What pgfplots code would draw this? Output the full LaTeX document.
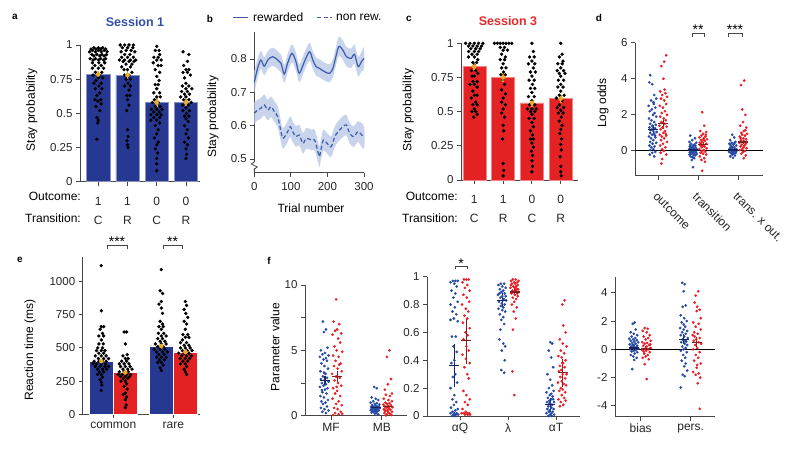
\documentclass[border=0pt]{standalone}
\usepackage{fontspec}
\setmainfont{Liberation Sans}
\usepackage{pgfplots}
\usepackage{pgfplotstable}
\pgfplotsset{compat=1.18}

\definecolor{barblue}{RGB}{38,56,146}
\definecolor{barred}{RGB}{228,34,36}
\definecolor{dotblue}{RGB}{38,72,165}
\definecolor{dotred}{RGB}{232,30,36}
\definecolor{dblue}{RGB}{22,36,100}
\definecolor{dred}{RGB}{135,30,30}
\definecolor{errY}{RGB}{236,172,40}
\definecolor{axgray}{RGB}{70,70,70}
\definecolor{lineblue}{RGB}{62,92,172}
\definecolor{bandblue}{RGB}{200,211,236}
\definecolor{titleblue}{RGB}{50,78,170}
\definecolor{titlered}{RGB}{232,40,40}

\newcommand{\lab}{\fontsize{12}{14}\selectfont}
\newcommand{\tkl}{\fontsize{11.5}{13}\selectfont}
\newcommand{\pl}{\fontsize{10}{12}\selectfont\bfseries}
\newcommand{\sigf}{\fontsize{14}{14}\selectfont}

\pgfplotsset{
  base/.style={scale only axis, axis lines=left, axis line style={-, draw=axgray, line width=0.9pt},
    major tick style={draw=axgray, line width=0.9pt}, major tick length=4pt, tick align=outside,
    tick label style={font=\tkl, text=black!85}, clip=false, anchor=south west},
  dots/.style={only marks, mark=*, mark size=1.15pt, mark options={draw=none}},
  bdots/.style={only marks, mark=*, mark size=1.5pt, color=black, mark options={draw=none, fill=black}},
  cross/.style={only marks, mark=-, mark size=5pt, mark options={line width=1.2pt},
    /pgfplots/error bars/y dir=both, /pgfplots/error bars/y explicit,
    /pgfplots/error bars/error mark=none, /pgfplots/error bars/error bar style={line width=1.2pt}},
  ebar/.style={only marks, mark=none, color=errY,
    /pgfplots/error bars/y dir=both, /pgfplots/error bars/y explicit,
    /pgfplots/error bars/error mark=none, /pgfplots/error bars/error bar style={line width=1.8pt}},
}

\pgfplotstableread{
t y
0 0.730
9 0.772
18 0.797
27 0.778
37 0.797
50 0.807
64 0.797
73 0.787
82 0.755
91 0.787
103 0.817
114 0.792
123 0.757
137 0.792
151 0.822
160 0.797
169 0.777
178 0.772
192 0.762
206 0.757
215 0.772
222 0.802
231 0.837
242 0.827
252 0.807
265 0.802
274 0.814
284 0.777
293 0.792
300 0.802
}\rewtab

\pgfplotstableread{
t y
0 0.762
9 0.801
18 0.824
27 0.805
37 0.824
50 0.834
64 0.824
73 0.814
82 0.782
91 0.814
103 0.844
114 0.819
123 0.784
137 0.819
151 0.849
160 0.824
169 0.804
178 0.799
192 0.789
206 0.784
215 0.799
222 0.829
231 0.866
242 0.856
252 0.836
265 0.831
274 0.843
284 0.806
293 0.821
300 0.834
300 0.770
293 0.763
284 0.748
274 0.785
265 0.773
252 0.778
242 0.798
231 0.808
222 0.775
215 0.745
206 0.730
192 0.735
178 0.745
169 0.750
160 0.770
151 0.795
137 0.765
123 0.730
114 0.765
103 0.790
91 0.760
82 0.728
73 0.760
64 0.770
50 0.780
37 0.770
27 0.751
18 0.770
9 0.743
0 0.698
}\rewband

\pgfplotstableread{
t y
0 0.637
9 0.647
18 0.652
27 0.662
37 0.647
46 0.657
55 0.642
64 0.627
73 0.582
78 0.562
89 0.577
98 0.597
105 0.582
114 0.567
123 0.572
133 0.547
142 0.562
156 0.557
165 0.557
174 0.522
178 0.507
183 0.532
189 0.557
199 0.547
210 0.537
220 0.567
229 0.582
242 0.597
252 0.602
261 0.577
272 0.567
284 0.582
300 0.564
}\nrtab

\pgfplotstableread{
t y
0 0.669
9 0.678
18 0.683
27 0.693
37 0.678
46 0.688
55 0.673
64 0.658
73 0.613
78 0.593
89 0.608
98 0.628
105 0.613
114 0.598
123 0.603
133 0.578
142 0.593
156 0.588
165 0.588
174 0.553
178 0.538
183 0.563
189 0.588
199 0.578
210 0.568
220 0.598
229 0.613
242 0.628
252 0.633
261 0.608
272 0.598
284 0.613
300 0.597
300 0.531
284 0.551
272 0.536
261 0.546
252 0.571
242 0.566
229 0.551
220 0.536
210 0.506
199 0.516
189 0.526
183 0.501
178 0.476
174 0.491
165 0.526
156 0.526
142 0.531
133 0.516
123 0.541
114 0.536
105 0.551
98 0.566
89 0.546
78 0.531
73 0.551
64 0.596
55 0.611
46 0.626
37 0.616
27 0.631
18 0.621
9 0.616
0 0.605
}\nrband

\begin{document}
\begin{tikzpicture}
\path[use as bounding box] (0pt,0pt) rectangle (800pt,453pt);

% ---------------- panel a
\begin{axis}[base, at={(80pt,271.3pt)}, width=120pt, height=136.7pt,
  xmin=0.373, xmax=4.48, ymin=0, ymax=1,
  xtick={1,2,3,4}, xticklabels={{1\\[5pt]C},{1\\[5pt]R},{0\\[5pt]C},{0\\[5pt]R}}, xticklabel style={align=center, yshift=-8pt, font=\lab},
  ytick={0,0.25,0.5,0.75,1}, yticklabels={0,0.25,0.5,0.75,1}]
\addplot[ybar, bar width=0.8, bar shift=0pt, fill=barblue, draw=barblue!55!white, line width=0.5pt] coordinates {(1,0.785) (2,0.78) (3,0.58) (4,0.58)};
\addplot[bdots] coordinates {
(0.85,0.98) (1,0.98) (1.15,0.98) (0.75,0.97) (0.92,0.97) (1.08,0.97) (1.25,0.97)
(0.8,0.96) (1,0.96) (1.2,0.96) (0.7,0.95) (0.9,0.95) (1.1,0.95) (1.3,0.95)
(0.78,0.93) (0.95,0.93) (1.12,0.93) (1.28,0.93) (0.85,0.92) (1.05,0.92) (1.2,0.92)
(0.72,0.90) (0.9,0.90) (1.08,0.90) (1.25,0.90) (0.82,0.89) (1,0.89) (1.18,0.89)
(0.8,0.87) (1.02,0.87) (1.22,0.87) (0.88,0.85) (1.1,0.85) (0.8,0.83) (1,0.83) (1.18,0.83)
(0.9,0.80) (1.12,0.80) (0.82,0.78) (1.05,0.78) (1,0.76) (1.15,0.76) (0.92,0.74)
(1.1,0.72) (0.85,0.72) (1.02,0.70) (0.9,0.68) (1.12,0.68) (1.05,0.65) (0.95,0.63)
(0.88,0.60) (1.08,0.60) (0.98,0.59) (1.1,0.57) (0.92,0.55) (1.05,0.52) (0.95,0.47)
(1,0.45) (0.98,0.43) (0.95,0.31)
(1.75,1) (1.9,1) (2.05,1) (2.2,1) (1.82,0.98) (2,0.98) (2.18,0.98) (1.95,0.96) (2.12,0.96)
(1.78,0.95) (2.25,0.95) (1.9,0.93) (2.08,0.93) (1.8,0.91) (2,0.91) (2.2,0.91)
(1.72,0.89) (1.9,0.89) (2.1,0.89) (2.28,0.89) (1.85,0.88) (2.05,0.88) (2.22,0.88)
(1.95,0.86) (2.15,0.86) (1.8,0.84) (2.1,0.84) (2,0.82) (1.88,0.82) (2.15,0.80)
(1.9,0.78) (2.05,0.78) (2.1,0.75) (1.95,0.75) (2.02,0.72) (1.9,0.70) (2.1,0.70)
(2.05,0.67) (1.98,0.63) (2.08,0.63) (2,0.60) (2.05,0.56) (1.97,0.52) (2,0.38)
(2.02,0.33) (1.98,0.30) (2,0.27) (2.02,0.25)
(3,0.99) (2.95,0.96) (3.08,0.96) (3.1,0.93) (2.9,0.91) (3.05,0.91) (3,0.89) (3.15,0.89)
(2.88,0.87) (3.05,0.85) (3.15,0.85) (2.95,0.82) (3.1,0.80) (3,0.77) (3.08,0.74) (2.95,0.71)
(3.05,0.71) (3,0.68) (2.9,0.65) (3.1,0.65) (3,0.62) (3.12,0.62) (2.92,0.60) (3.05,0.58)
(2.85,0.58) (3.12,0.55) (2.95,0.55) (2.82,0.53) (3,0.53) (3.18,0.53) (2.9,0.51) (3.08,0.51)
(2.8,0.49) (3,0.49) (3.15,0.49) (2.9,0.47) (3.1,0.47) (3,0.45) (2.8,0.45) (3.1,0.43)
(2.95,0.41) (3.05,0.38) (3,0.35) (2.92,0.32) (3.05,0.29) (3,0.27) (2.95,0.24) (3.03,0.21)
(3,0.17) (3,0.13) (3,0.08)
(3.9,0.95) (4.1,0.93) (4.05,0.88) (3.92,0.85) (4,0.82) (4.1,0.82) (3.9,0.80) (4.05,0.80)
(4.15,0.78) (3.95,0.76) (4,0.72) (3.88,0.70) (4.1,0.70) (4,0.68) (4.2,0.68) (3.85,0.66)
(4.05,0.66) (3.95,0.64) (4.12,0.64) (4,0.62) (3.82,0.62) (4.1,0.60) (3.92,0.60) (4,0.58)
(4.18,0.58) (3.88,0.56) (4.08,0.56) (4,0.54) (3.9,0.52) (4.12,0.52) (4.02,0.50) (3.95,0.48)
(4.1,0.48) (4,0.46) (4.08,0.44) (3.95,0.41) (4.05,0.38) (4,0.35) (4.08,0.32) (3.95,0.29)
(4.05,0.27) (4,0.24) (4.02,0.20) (4,0.17)};
\addplot[ebar] coordinates {(1,0.785) +- (0,0.025) (2,0.78) +- (0,0.028) (3,0.58) +- (0,0.03) (4,0.58) +- (0,0.028)};
\end{axis}

% ---------------- panel b
\begin{axis}[base, at={(254.3pt,280.3pt)}, width=109.7pt, height=140.4pt,
  xmin=0, xmax=300, ymin=0.459, ymax=0.88,
  xtick={0,100,200,300}, xticklabels={0,100,200,300}, xticklabel style={yshift=-2pt},
  ytick={0.5,0.6,0.7,0.8}, yticklabels={0.5,0.6,0.7,0.8}]
\addplot[fill=bandblue, draw=none, smooth, tension=0.5] table[x=t,y=y]{\rewband};
\addplot[fill=bandblue, draw=none, smooth, tension=0.5] table[x=t,y=y]{\nrband};
\addplot[lineblue, line width=1.2pt, smooth, tension=0.5] table[x=t,y=y]{\rewtab};
\addplot[lineblue, line width=1.2pt, smooth, tension=0.5, dash pattern=on 4pt off 2.5pt] table[x=t,y=y]{\nrtab};
\end{axis}

% ---------------- panel c
\begin{axis}[base, at={(461pt,273pt)}, width=117pt, height=136.7pt,
  xmin=0.538, xmax=4.6, ymin=0, ymax=1,
  xtick={1,2,3,4}, xticklabels={{1\\[5pt]C},{1\\[5pt]R},{0\\[5pt]C},{0\\[5pt]R}}, xticklabel style={align=center, yshift=-8pt, font=\lab},
  ytick={0,0.25,0.5,0.75,1}, yticklabels={0,0.25,0.5,0.75,1}]
\addplot[ybar, bar width=0.8, bar shift=0pt, fill=barred, draw=barred!55!white, line width=0.5pt] coordinates {(1,0.83) (2,0.75) (3,0.565) (4,0.595)};
\addplot[bdots] coordinates {
(0.7,1) (0.85,1) (1,1) (1.15,1) (1.3,1) (0.8,0.98) (0.95,0.98) (1.1,0.98) (1.25,0.98)
(0.88,0.96) (1.05,0.96) (1.2,0.96) (0.8,0.94) (1,0.94) (1.15,0.94) (0.92,0.92) (1.1,0.92)
(1,0.90) (0.8,0.90) (1.12,0.88) (0.95,0.86) (1.08,0.86) (1,0.84) (0.9,0.80) (1.05,0.80)
(1.12,0.78) (0.92,0.76) (1,0.76) (1.1,0.72) (0.95,0.72) (1,0.70) (0.85,0.70) (1.1,0.68)
(0.95,0.65) (1,0.62) (1.1,0.62) (0.9,0.60) (1.05,0.57) (0.95,0.55) (1.1,0.55) (1,0.52)
(0.92,0.50) (1.05,0.50) (1.1,0.48) (0.98,0.46)
(1.7,1) (1.8,1) (1.9,1) (2,1) (2.1,1) (2.2,1) (2.3,1)
(1.9,0.97) (2.05,0.97) (2,0.95) (2.15,0.95) (1.95,0.92) (2.08,0.90) (1.9,0.88) (2.05,0.88)
(2,0.85) (2.1,0.82) (1.95,0.82) (2.02,0.79) (1.92,0.77) (2.08,0.77) (2,0.74) (2.05,0.70)
(1.95,0.66) (2.08,0.63) (2,0.60) (1.95,0.57) (2.08,0.55) (2,0.52) (1.95,0.49) (2.05,0.46)
(2,0.40) (2.02,0.36) (1.98,0.30) (2,0.12) (2.02,0.07) (2,0.03)
(3,1) (3.05,0.94) (2.92,0.90) (3.08,0.90) (3,0.87) (2.88,0.85) (3.1,0.85) (3.05,0.82)
(2.95,0.79) (3.12,0.79) (3,0.76) (2.9,0.73) (3.08,0.73) (3.02,0.70) (2.95,0.67) (3.1,0.67)
(3,0.64) (2.88,0.61) (3.08,0.61) (3,0.58) (2.92,0.55) (3.1,0.55) (2.85,0.52) (3,0.52)
(3.15,0.52) (2.95,0.50) (3.1,0.50) (3,0.48) (2.9,0.45) (3.08,0.45) (3,0.42) (3.05,0.39)
(2.95,0.36) (3.02,0.33) (2.95,0.30) (3.05,0.30) (3,0.27) (3.05,0.24) (2.98,0.21) (3.02,0.18)
(3,0.14) (3.02,0.10) (3,0.06)
(4,1) (4.05,0.92) (3.95,0.90) (4.08,0.87) (3.9,0.85) (4.05,0.85) (4,0.82) (3.88,0.80)
(4.1,0.80) (3.95,0.78) (4.15,0.78) (4,0.76) (4.1,0.73) (3.92,0.73) (4,0.70) (3.9,0.68)
(4.08,0.68) (4,0.65) (4.12,0.62) (3.95,0.62) (3.85,0.60) (4.05,0.58) (3.95,0.55) (3.88,0.53)
(4.1,0.53) (4,0.51) (3.92,0.49) (4.08,0.49) (4.02,0.46) (3.95,0.43) (4.05,0.40) (4,0.37)
(3.97,0.34) (4.03,0.30) (4,0.26) (4.02,0.22) (3.98,0.17) (4,0.10) (4,0.06) (4.02,0.03)};
\addplot[ebar] coordinates {(1,0.83) +- (0,0.025) (2,0.75) +- (0,0.035) (3,0.565) +- (0,0.03) (4,0.595) +- (0,0.03)};
\end{axis}

% ---------------- panel d
\begin{axis}[base, at={(635pt,277.3pt)}, width=128pt, height=133pt,
  xmin=0.42, xmax=3.62, ymin=-1.372, ymax=6,
  xtick={1,2,3}, xticklabels={outcome,transition,trans. x out.},
  xticklabel style={rotate=-45, anchor=north west, xshift=5pt, yshift=-5pt, font=\lab},
  ytick={0,2,4,6}, yticklabels={0,2,4,6}]
\addplot[black, line width=1pt, forget plot] coordinates {(0.42,0) (3.62,0)};
\addplot[dots, color=dotblue] coordinates {
(0.80,4.2) (0.78,3.8) (0.85,3.7) (0.9,3.1) (0.95,2.9) (0.82,2.8) (0.88,2.7) (0.76,2.5) (0.93,2.4)
(0.84,2.3) (0.79,2.2) (0.91,2.1) (0.87,2.0) (0.95,1.9) (0.77,1.8) (0.83,1.7) (0.9,1.6) (0.8,1.5)
(0.94,1.45) (0.86,1.4) (0.78,1.3) (0.92,1.25) (0.84,1.2) (0.88,1.1) (0.96,1.05) (0.8,1.0)
(0.9,0.95) (0.85,0.9) (0.77,0.8) (0.93,0.75) (0.82,0.7) (0.88,0.6) (0.8,0.5) (0.95,0.45)
(0.86,0.4) (0.78,0.3) (0.91,0.25) (0.83,0.2) (0.88,0.1) (0.8,0.05) (0.93,-0.05) (0.85,-0.1)
(0.79,-0.2) (0.9,-0.3) (0.86,1.35) (0.81,1.15) (0.89,2.6) (0.92,0.85)
(1.8,0.85) (1.92,0.7) (1.85,0.6) (1.78,0.5) (1.95,0.45) (1.82,0.4) (1.9,0.35) (1.87,0.3)
(1.79,0.25) (1.93,0.2) (1.84,0.18) (1.8,0.15) (1.89,0.12) (1.96,0.1) (1.77,0.08) (1.86,0.05)
(1.91,0.03) (1.82,0.0) (1.88,-0.02) (1.94,-0.05) (1.79,-0.07) (1.85,-0.1) (1.9,-0.12)
(1.83,-0.15) (1.96,-0.18) (1.78,-0.2) (1.88,-0.22) (1.92,-0.25) (1.81,-0.3) (1.86,-0.35)
(1.9,-0.4) (1.84,-0.5) (1.87,-0.9) (1.93,0.28) (1.8,0.32) (1.86,0.22) (1.9,0.06) (1.83,-0.04) (1.95,-0.1)
(2.85,0.9) (2.9,0.75) (2.8,0.6) (2.93,0.5) (2.84,0.45) (2.78,0.4) (2.88,0.35) (2.95,0.3)
(2.82,0.25) (2.9,0.2) (2.86,0.18) (2.79,0.15) (2.92,0.12) (2.85,0.1) (2.96,0.08) (2.8,0.05)
(2.88,0.03) (2.83,0.0) (2.91,-0.02) (2.77,-0.05) (2.87,-0.08) (2.94,-0.1) (2.82,-0.12)
(2.89,-0.15) (2.85,-0.2) (2.92,-0.25) (2.8,-0.3) (2.87,-0.38) (2.9,0.42) (2.84,0.22) (2.95,-0.05) (2.81,0.32)};
\addplot[dots, color=dotred] coordinates {
(1.2,5.3) (1.15,4.95) (1.08,4.7) (1.13,4.0) (1.05,3.3) (1.18,3.2) (1.1,3.1) (1.22,3.0) (1.07,2.9)
(1.15,2.8) (1.2,2.6) (1.04,2.5) (1.12,2.4) (1.17,2.2) (1.09,2.1) (1.22,2.0) (1.05,1.9) (1.14,1.8)
(1.19,1.7) (1.08,1.6) (1.16,1.5) (1.03,1.4) (1.21,1.35) (1.11,1.3) (1.06,1.2) (1.17,1.1)
(1.13,1.0) (1.04,0.9) (1.2,0.85) (1.09,0.8) (1.15,0.7) (1.07,0.6) (1.22,0.5) (1.12,0.4)
(1.05,0.3) (1.18,0.2) (1.1,0.1) (1.14,0.0) (1.06,-0.1) (1.2,-0.2) (1.1,-0.45) (1.08,-0.7)
(1.16,3.4) (1.1,1.55) (1.19,0.95)
(2.1,2.15) (2.15,1.4) (2.05,1.1) (2.2,1.05) (2.12,0.95) (2.08,0.85) (2.18,0.8) (2.03,0.75)
(2.14,0.7) (2.22,0.65) (2.07,0.6) (2.17,0.55) (2.1,0.5) (2.04,0.45) (2.2,0.4) (2.13,0.35)
(2.06,0.3) (2.16,0.25) (2.09,0.2) (2.21,0.15) (2.03,0.1) (2.14,0.05) (2.1,0.0) (2.18,-0.05)
(2.06,-0.1) (2.12,-0.15) (2.2,-0.2) (2.04,-0.3) (2.15,-0.4) (2.08,-0.5) (2.17,-0.6) (2.1,-1.1)
(2.13,0.62) (2.07,0.38) (2.19,0.9) (2.11,0.28)
(3.15,3.9) (3.07,3.65) (3.1,2.3) (3.18,2.0) (3.12,1.6) (3.05,1.4) (3.2,1.3) (3.14,1.1)
(3.08,1.0) (3.22,0.95) (3.1,0.9) (3.17,0.85) (3.04,0.8) (3.13,0.7) (3.2,0.65) (3.07,0.6)
(3.15,0.55) (3.11,0.5) (3.03,0.45) (3.19,0.4) (3.09,0.35) (3.16,0.3) (3.06,0.25) (3.13,0.2)
(3.21,0.15) (3.1,0.1) (3.04,0.05) (3.17,0.0) (3.12,-0.05) (3.08,-0.15) (3.19,-0.25) (3.14,-0.4)
(3.06,0.72) (3.18,1.15)};
\addplot[color=dblue, cross] coordinates {(0.875,1.2) +- (0,0.25) (1.875,0.05) +- (0,0.07) (2.875,0.05) +- (0,0.06)};
\addplot[color=dred, cross] coordinates {(1.125,1.5) +- (0,0.3) (2.125,0.35) +- (0,0.12) (3.125,0.5) +- (0,0.13)};
\end{axis}

% ---------------- panel e
\begin{axis}[base, at={(82.7pt,38.7pt)}, width=117.3pt, height=157.6pt,
  xmin=-0.775, xmax=4.11, ymin=0, ymax=1187,
  xtick={0.5,3}, xticklabels={common,rare}, xticklabel style={font=\lab},
  ytick={0,250,500,750,1000}, yticklabels={0,250,500,750,1000}]
\addplot[ybar, bar width=1, bar shift=0pt, fill=barblue, draw=white, line width=0.5pt] coordinates {(0,400) (2.5,515)};
\addplot[ybar, bar width=1, bar shift=0pt, fill=barred, draw=white, line width=0.5pt] coordinates {(1,315) (3.5,470)};
\addplot[bdots] coordinates {
(0,1120) (0,780) (0,660) (0.1,660) (-0.05,640) (0.05,610) (-0.1,590) (0.1,590) (0,560) (-0.1,530)
(0.08,530) (-0.15,500) (0.05,500) (0,480) (0.15,480) (-0.2,480) (-0.1,460) (0.1,460) (0,440)
(-0.25,440) (0.2,440) (-0.12,420) (0.1,420) (0.3,420) (-0.3,400) (-0.1,400) (0.05,400) (0.2,400)
(-0.2,380) (0,380) (0.18,380) (-0.35,380) (-0.25,360) (-0.05,360) (0.15,360) (0.3,360)
(-0.15,340) (0.05,340) (0.22,340) (-0.08,320) (0.1,320) (0,300) (-0.15,300) (0.05,280)
(-0.05,260) (0,240) (0.02,220) (0,180)
(0.95,620) (1.05,620) (1,530) (1.08,450) (0.9,440) (1,420) (1.12,420) (0.85,400) (1.05,400)
(0.95,380) (1.15,380) (0.75,380) (1,360) (1.2,360) (0.8,360) (0.9,340) (1.1,340) (1.28,340)
(0.75,320) (0.95,320) (1.12,320) (0.7,300) (0.88,300) (1.05,300) (1.22,300) (0.8,285) (1,285)
(1.18,285) (0.92,270) (1.1,270) (1,250) (0.82,250) (1.05,230) (0.95,210) (1.08,190) (1,160)
(0.92,150) (1.05,130) (1,110) (1.03,70) (1,50)
(2.5,1090) (2.45,930) (2.55,910) (2.5,850) (2.4,830) (2.5,800) (2.55,760) (2.45,700) (2.55,680)
(2.4,660) (2.58,660) (2.5,640) (2.38,610) (2.6,610) (2.5,590) (2.7,590) (2.35,570) (2.55,570)
(2.45,550) (2.65,550) (2.25,530) (2.5,530) (2.7,530) (2.35,510) (2.58,510) (2.2,490) (2.45,490)
(2.65,490) (2.3,470) (2.55,470) (2.75,470) (2.4,450) (2.62,450) (2.3,430) (2.5,430) (2.7,430)
(2.42,410) (2.62,410) (2.5,390) (2.35,390) (2.58,370) (2.45,350) (2.5,330)
(3.5,850) (3.55,820) (3.45,790) (3.52,760) (3.6,730) (3.45,700) (3.55,680) (3.5,640) (3.4,600)
(3.6,600) (3.5,580) (3.65,580) (3.38,560) (3.55,540) (3.3,540) (3.45,520) (3.65,520) (3.3,500)
(3.5,500) (3.7,500) (3.38,480) (3.58,480) (3.78,480) (3.22,460) (3.45,460) (3.65,460)
(3.35,440) (3.55,440) (3.75,440) (3.28,420) (3.5,420) (3.68,420) (3.4,400) (3.6,400) (3.5,380)
(3.3,380) (3.55,360) (3.45,340) (3.5,320) (3.55,300)};
\addplot[ebar] coordinates {(0,400) +- (0,18) (1,315) +- (0,15) (2.5,515) +- (0,20) (3.5,470) +- (0,15)};
\end{axis}

% ---------------- panel f1
\begin{axis}[base, at={(305pt,37.3pt)}, width=101.7pt, height=130.7pt,
  xmin=0.487, xmax=2.49, ymin=0, ymax=10,
  xtick={1,2}, xticklabels={MF,MB}, xticklabel style={font=\lab},
  ytick={0,2.5,5,7.5,10}, yticklabels={0,,5,,10}]
\addplot[dots, color=dotblue] coordinates {
(0.84,7.2) (0.9,6.6) (0.86,6.4) (0.93,5.2) (0.8,5.0) (0.88,4.8) (0.83,4.7) (0.95,4.6) (0.78,4.5)
(0.9,4.4) (0.85,4.3) (0.92,4.2) (0.81,4.0) (0.87,3.8) (0.94,3.6) (0.79,3.4) (0.89,3.2) (0.84,3.0)
(0.92,2.9) (0.8,2.8) (0.87,2.7) (0.95,2.6) (0.82,2.5) (0.9,2.4) (0.85,2.3) (0.78,2.2) (0.93,2.1)
(0.88,2.0) (0.83,1.8) (0.91,1.7) (0.79,1.5) (0.86,1.4) (0.94,1.2) (0.81,1.1) (0.89,1.0) (0.84,0.9)
(0.92,0.7) (0.8,0.6) (0.87,0.5) (0.95,0.4) (0.83,0.3) (0.9,0.2) (0.86,3.3) (0.82,1.95)
(1.85,2.2) (1.9,2.1) (1.8,1.4) (1.88,1.3) (1.93,1.2) (1.83,1.1) (1.78,1.0) (1.9,0.95) (1.86,0.9)
(1.95,0.85) (1.81,0.8) (1.88,0.75) (1.92,0.7) (1.79,0.68) (1.85,0.65) (1.9,0.62) (1.83,0.6)
(1.96,0.58) (1.87,0.55) (1.8,0.52) (1.92,0.5) (1.85,0.48) (1.89,0.45) (1.78,0.43) (1.94,0.4)
(1.82,0.38) (1.87,0.35) (1.91,0.32) (1.84,0.3) (1.8,0.25) (1.89,0.2) (1.86,0.15) (1.93,0.1)
(1.82,0.72) (1.88,0.58) (1.95,0.66)};
\addplot[dots, color=dotred] coordinates {
(1.1,8.9) (1.05,7.2) (1.16,7.0) (1.12,6.6) (1.08,6.5) (1.2,6.3) (1.03,6.2) (1.14,5.9) (1.18,5.6)
(1.07,5.3) (1.11,5.0) (1.22,4.9) (1.04,4.6) (1.15,4.5) (1.09,4.2) (1.19,4.0) (1.06,3.8) (1.13,3.6)
(1.21,3.4) (1.02,3.2) (1.1,3.0) (1.17,2.9) (1.07,2.7) (1.14,2.5) (1.2,2.3) (1.04,2.1) (1.12,1.9)
(1.08,1.7) (1.18,1.5) (1.03,1.3) (1.15,1.1) (1.1,0.9) (1.21,0.8) (1.06,0.6) (1.13,0.5) (1.19,0.3)
(1.08,0.2) (1.15,0.1) (1.04,0.05) (1.22,0.15) (1.11,2.2) (1.16,3.9)
(2.15,5.0) (2.1,4.5) (2.18,2.8) (2.12,2.4) (2.06,2.0) (2.2,1.7) (2.08,1.6) (2.16,1.5) (2.04,1.3)
(2.13,1.2) (2.2,1.1) (2.07,1.0) (2.15,0.95) (2.1,0.9) (2.03,0.85) (2.18,0.8) (2.12,0.75) (2.06,0.7)
(2.21,0.65) (2.09,0.6) (2.14,0.55) (2.04,0.5) (2.17,0.45) (2.11,0.4) (2.07,0.35) (2.2,0.3)
(2.13,0.25) (2.05,0.2) (2.16,0.15) (2.1,0.1) (2.19,0.05) (2.08,0.02) (2.14,0.68) (2.06,0.42)};
\addplot[color=dblue, cross] coordinates {(0.88,2.7) +- (0,0.35) (1.88,0.6) +- (0,0.08)};
\addplot[color=dred, cross] coordinates {(1.12,3.0) +- (0,0.45) (2.12,0.7) +- (0,0.12)};
\end{axis}

% ---------------- panel f2
\begin{axis}[base, at={(427pt,37pt)}, width=153pt, height=139.3pt,
  xmin=0.31, xmax=3.5, ymin=0, ymax=1,
  xtick={1,2,3}, xticklabels={αQ,λ,αT}, xticklabel style={font=\lab},
  ytick={0,0.2,0.4,0.6,0.8,1}, yticklabels={0,0.2,0.4,0.6,0.8,1}]
\addplot[dots, color=dotblue] coordinates {
(0.85,0.97) (0.9,0.97) (0.95,0.97) (0.8,0.96) (0.88,0.95) (0.93,0.93) (0.82,0.9) (0.9,0.88)
(0.86,0.85) (0.95,0.82) (0.8,0.8) (0.89,0.78) (0.84,0.75) (0.92,0.73) (0.87,0.7) (0.8,0.69)
(0.95,0.68) (0.83,0.57) (0.91,0.57) (0.86,0.5) (0.93,0.46) (0.88,0.4) (0.82,0.38) (0.9,0.3)
(0.85,0.28) (0.94,0.24) (0.8,0.2) (0.88,0.15) (0.84,0.12) (0.92,0.1) (0.87,0.08) (0.81,0.06)
(0.95,0.05) (0.9,0.04) (0.84,0.03) (0.88,0.02) (0.93,0.02) (0.8,0.02) (0.86,0.01) (0.91,0.01)
(0.96,0.01) (0.83,0.0) (0.89,0.0)
(1.85,0.95) (1.92,0.95) (1.8,0.94) (1.88,0.93) (1.95,0.92) (1.83,0.91) (1.9,0.9) (1.86,0.89)
(1.93,0.88) (1.79,0.87) (1.88,0.86) (1.84,0.85) (1.91,0.84) (1.96,0.83) (1.81,0.82) (1.87,0.81)
(1.93,0.8) (1.85,0.79) (1.9,0.78) (1.8,0.77) (1.88,0.76) (1.94,0.75) (1.83,0.73) (1.9,0.71)
(1.86,0.69) (1.92,0.66) (1.84,0.62) (1.82,0.55) (1.9,0.52) (1.94,0.5) (1.87,0.47) (1.93,0.4)
(1.86,0.33) (1.92,0.31) (1.95,0.86) (1.82,0.88) (1.89,0.83)
(2.88,0.53) (2.92,0.52) (2.85,0.47) (2.9,0.42) (2.94,0.35) (2.82,0.3) (2.88,0.26) (2.92,0.22)
(2.85,0.2) (2.95,0.18) (2.8,0.17) (2.9,0.16) (2.87,0.15) (2.93,0.14) (2.83,0.13) (2.9,0.12)
(2.86,0.11) (2.96,0.1) (2.81,0.1) (2.88,0.09) (2.92,0.08) (2.84,0.07) (2.9,0.06) (2.95,0.05)
(2.82,0.05) (2.87,0.04) (2.93,0.03) (2.85,0.03) (2.9,0.02) (2.8,0.02) (2.96,0.01) (2.88,0.01)
(2.84,0.0) (2.91,0.0) (2.86,0.09) (2.94,0.12)};
\addplot[dots, color=dotred] coordinates {
(1.08,0.98) (1.13,0.98) (1.18,0.98) (1.05,0.96) (1.15,0.94) (1.1,0.92) (1.2,0.9) (1.07,0.87)
(1.14,0.85) (1.19,0.82) (1.04,0.8) (1.12,0.77) (1.17,0.75) (1.09,0.72) (1.15,0.7) (1.06,0.67)
(1.2,0.63) (1.11,0.6) (1.16,0.58) (1.07,0.55) (1.13,0.5) (1.18,0.47) (1.05,0.44) (1.12,0.41)
(1.2,0.38) (1.09,0.35) (1.15,0.3) (1.18,0.27) (1.07,0.18) (1.13,0.15) (1.2,0.12) (1.1,0.1)
(1.16,0.08) (1.05,0.05) (1.12,0.03) (1.08,0.02) (1.14,0.02) (1.19,0.02) (1.03,0.02) (1.1,0.01)
(1.16,0.01) (1.21,0.01)
(2.1,0.98) (2.16,0.98) (2.22,0.97) (2.06,0.97) (2.13,0.96) (2.19,0.96) (2.08,0.95) (2.15,0.95)
(2.2,0.94) (2.11,0.93) (2.17,0.93) (2.05,0.92) (2.14,0.92) (2.21,0.91) (2.09,0.9) (2.16,0.9)
(2.12,0.89) (2.19,0.88) (2.07,0.88) (2.14,0.87) (2.2,0.86) (2.1,0.85) (2.17,0.84) (2.13,0.82)
(2.08,0.8) (2.18,0.78) (2.12,0.75) (2.16,0.7) (2.1,0.62) (2.09,0.32) (2.13,0.15) (2.22,0.89)
(2.06,0.94) (2.18,0.91)
(3.18,0.83) (3.13,0.8) (3.15,0.65) (3.2,0.6) (3.08,0.55) (3.14,0.52) (3.22,0.5) (3.1,0.47)
(3.17,0.45) (3.05,0.43) (3.12,0.42) (3.2,0.4) (3.15,0.38) (3.08,0.36) (3.18,0.35) (3.11,0.33)
(3.06,0.32) (3.22,0.3) (3.14,0.3) (3.09,0.28) (3.19,0.27) (3.12,0.25) (3.04,0.24) (3.16,0.23)
(3.21,0.22) (3.1,0.2) (3.14,0.19) (3.07,0.18) (3.19,0.17) (3.12,0.15) (3.17,0.13) (3.05,0.12)
(3.2,0.11) (3.1,0.1) (3.15,0.08) (3.08,0.07) (3.13,0.38)};
\addplot[color=dblue, cross] coordinates {(0.88,0.36) +- (0,0.155) (1.88,0.83) +- (0,0.05) (2.88,0.08) +- (0,0.05)};
\addplot[color=dred, cross] coordinates {(1.13,0.54) +- (0,0.165) (2.14,0.89) +- (0,0.03) (3.14,0.31) +- (0,0.1)};
\end{axis}

% ---------------- panel f3
\begin{axis}[base, at={(615pt,36.3pt)}, width=100pt, height=140pt,
  xmin=0.486, xmax=2.486, ymin=-4.76, ymax=5.13,
  xtick={1,2}, xticklabels={bias,pers.}, xticklabel style={font=\lab},
  ytick={-4,-2,0,2,4}, yticklabels={-4,-2,0,2,4}]
\addplot[black, line width=1pt, forget plot] coordinates {(0.486,0) (2.486,0)};
\addplot[dots, color=dotblue] coordinates {
(0.88,1.9) (0.84,1.8) (0.9,1.4) (0.8,1.2) (0.86,1.1) (0.93,1.0) (0.82,0.9) (0.89,0.8) (0.77,0.75)
(0.85,0.7) (0.92,0.65) (0.8,0.6) (0.87,0.55) (0.95,0.5) (0.83,0.45) (0.9,0.4) (0.78,0.35)
(0.86,0.3) (0.93,0.25) (0.81,0.2) (0.88,0.15) (0.84,0.1) (0.95,0.05) (0.79,0.0) (0.9,-0.05)
(0.86,-0.1) (0.82,-0.15) (0.93,-0.2) (0.88,-0.3) (0.8,-0.4) (0.85,-0.5) (0.92,-0.6) (0.87,-0.75)
(0.83,-1.4) (0.91,0.12) (0.84,0.32)
(1.83,4.7) (1.88,4.6) (1.86,4.1) (1.9,3.1) (1.84,3.0) (1.8,2.4) (1.87,2.2) (1.92,2.0) (1.82,1.9)
(1.89,1.6) (1.79,1.5) (1.86,1.4) (1.93,1.3) (1.83,1.2) (1.9,1.1) (1.8,1.0) (1.87,0.9) (1.94,0.8)
(1.84,0.7) (1.89,0.6) (1.81,0.5) (1.88,0.4) (1.93,0.3) (1.83,0.2) (1.9,0.1) (1.86,0.0) (1.8,-0.1)
(1.92,-0.2) (1.85,-0.4) (1.89,-0.6) (1.82,-0.8) (1.9,-1.0) (1.87,-1.2) (1.93,-1.5) (1.84,-1.8)
(1.88,-1.9) (1.8,-2.7) (1.86,1.75) (1.91,0.55)};
\addplot[dots, color=dotred] coordinates {
(1.08,1.5) (1.14,1.45) (1.04,1.3) (1.12,1.2) (1.18,1.0) (1.06,0.9) (1.15,0.8) (1.1,0.7) (1.2,0.6)
(1.03,0.5) (1.13,0.45) (1.08,0.4) (1.17,0.3) (1.05,0.25) (1.12,0.2) (1.2,0.1) (1.09,0.05)
(1.15,0.0) (1.03,-0.05) (1.11,-0.1) (1.18,-0.2) (1.07,-0.3) (1.14,-0.4) (1.1,-0.5) (1.04,-0.6)
(1.16,-0.7) (1.08,-1.05) (1.12,-2.1) (1.19,0.35) (1.06,-0.15)
(2.15,4.1) (2.1,3.8) (2.08,3.3) (2.13,3.0) (2.18,2.8) (2.12,2.7) (2.2,2.2) (2.05,1.9) (2.16,1.8)
(2.1,1.6) (2.2,1.4) (2.07,1.2) (2.14,1.1) (2.04,1.0) (2.18,0.8) (2.11,0.7) (2.06,0.6) (2.16,0.5)
(2.21,0.4) (2.09,0.3) (2.13,0.1) (2.05,0.0) (2.18,-0.2) (2.1,-0.4) (2.15,-0.6) (2.07,-0.8)
(2.2,-1.0) (2.12,-1.3) (2.05,-1.6) (2.16,-1.7) (2.1,-1.8) (2.19,-2.0) (2.14,-2.4) (2.18,-4.2)
(2.08,0.9) (2.13,-1.1)};
\addplot[color=dblue, cross] coordinates {(0.86,0.1) +- (0,0.15) (1.86,0.7) +- (0,0.35)};
\addplot[color=dred, cross] coordinates {(1.1,0.05) +- (0,0.15) (2.12,0.5) +- (0,0.35)};
\end{axis}

% ---------------- texts
\begin{scope}[x=1pt,y=1pt]
\node[font=\pl] at (15,436) {a};
\node[font=\pl] at (210,434) {b};
\node[font=\pl] at (409,434) {c};
\node[font=\pl] at (599,435) {d};
\node[font=\pl] at (20,193) {e};
\node[font=\pl] at (269,192) {f};

\node[font=\fontsize{12.5}{14}\selectfont\bfseries, text=titleblue] at (135,431.3) {Session 1};
\node[font=\fontsize{12.5}{14}\selectfont\bfseries, text=titlered] at (508,432.3) {Session 3};

\node[rotate=90, font=\lab] at (31.7,343) {Stay probability};
\node[rotate=90, font=\lab] at (213,336.3) {Stay probability};
\node[rotate=90, font=\lab] at (408.3,343) {Stay probability};
\node[rotate=90, font=\lab] at (603,350) {Log odds};
\node[rotate=90, font=\lab] at (30,103) {Reaction time (ms)};
\node[rotate=90, font=\lab] at (275,106) {Parameter value};
\node[font=\lab] at (311,245) {Trial number};

\node[anchor=east, font=\lab, inner sep=0] at (81,256.3) {Outcome:};
\node[anchor=east, font=\lab, inner sep=0] at (81,234.7) {Transition:};
\node[anchor=east, font=\lab, inner sep=0] at (458,256.3) {Outcome:};
\node[anchor=east, font=\lab, inner sep=0] at (458,234.7) {Transition:};

% legend b
\draw[lineblue, line width=1.2pt] (233,435.7) -- (248,435.7);
\node[anchor=west, font=\lab, inner sep=0] at (253,435.7) {rewarded};
\draw[lineblue, line width=1.2pt, dash pattern=on 4pt off 2.5pt] (317,435.7) -- (332,435.7);
\node[anchor=west, font=\lab, inner sep=0] at (336,435.7) {non rew.};

% broken axis mark b
\fill[white] (250,285) rectangle (259,291);
\draw[axgray, line width=0.8pt] (254.3,293) -- (254.3,291) -- (251.3,289) -- (257.3,286) -- (254.3,284) -- (254.3,282);

% significance
\draw[axgray, line width=0.8pt] (107,204) -- (107,208) -- (127,208) -- (127,204);
\node[font=\sigf] at (117,211) {***};
\draw[axgray, line width=0.8pt] (163,204) -- (163,208) -- (182,208) -- (182,204);
\node[font=\sigf] at (172.5,211) {**};
\draw[axgray, line width=0.8pt] (692,416) -- (692,420) -- (704,420) -- (704,416);
\node[font=\sigf] at (698,423.5) {**};
\draw[axgray, line width=0.8pt] (728,416) -- (728,420) -- (742,420) -- (742,416);
\node[font=\sigf] at (735,423.5) {***};
\draw[axgray, line width=0.8pt] (455,184) -- (455,187) -- (467,187) -- (467,184);
\node[font=\sigf] at (461,189.3) {*};
\end{scope}
\end{tikzpicture}
\end{document}
